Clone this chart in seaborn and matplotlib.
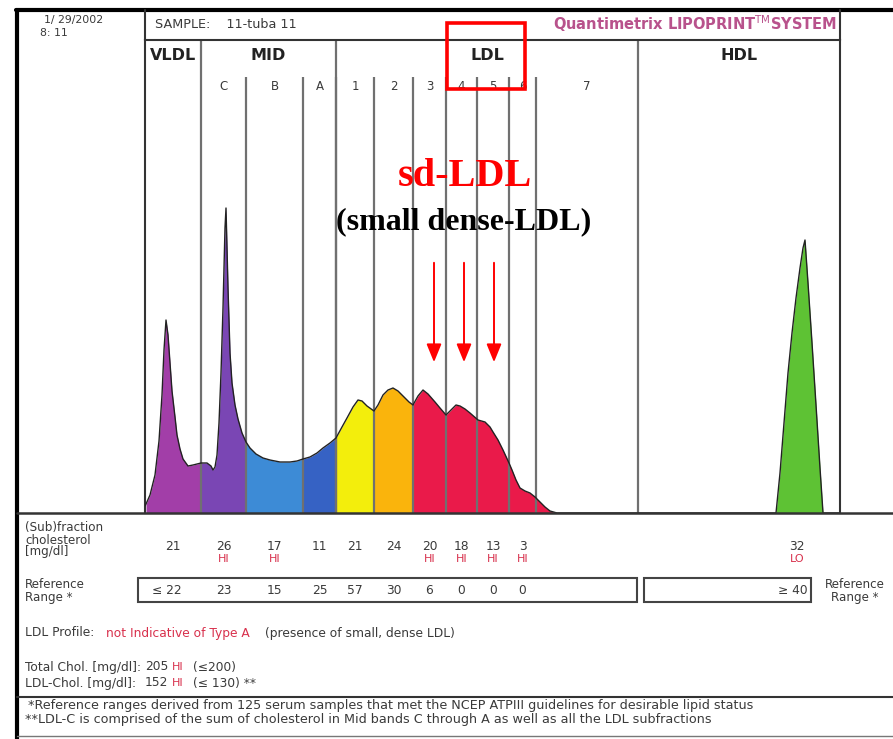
import matplotlib.pyplot as plt
import matplotlib.transforms as mtransforms
from matplotlib.patches import Rectangle
import numpy as np
import seaborn as sns

# densitometric scan of the gel: mobility position and relative intensity
scan_pos = [145, 146, 150, 155, 159, 162, 164, 166, 168, 170, 172, 175, 177, 180,
            183, 188, 193, 197, 201, 207, 211, 213, 215, 217, 219, 221, 223, 225,
            226, 228, 230, 232, 235, 238, 242, 246, 250, 256, 263, 270, 280, 290,
            297, 303, 310, 317, 323, 330, 336, 342, 347, 353, 358, 362, 367, 374,
            378, 383, 388, 393, 398, 404, 409, 413, 418, 423, 428, 435, 440, 446,
            451, 456, 460, 465, 470, 478, 485, 490, 493, 498, 503, 509, 512, 516,
            520, 525, 530, 535, 540, 545, 550, 557, 650, 776, 780, 784, 788, 792,
            796, 800, 803, 805, 808, 812, 816, 820, 823, 840]
scan_int = [7, 9, 18, 38, 72, 118, 163, 193, 178, 150, 122, 96, 78, 64,
            54, 47, 48, 49, 50, 50, 47, 43, 46, 58, 90, 140, 205, 285,
            305, 225, 160, 130, 108, 94, 80, 71, 65, 59, 55, 53, 51, 51,
            52, 54, 56, 60, 65, 70, 75, 86, 95, 106, 113, 112, 107, 102,
            108, 118, 123, 125, 122, 116, 111, 108, 117, 123, 119, 111, 105, 98,
            103, 108, 107, 104, 100, 93, 91, 86, 81, 73, 63, 50, 43, 33,
            25, 22, 20, 16, 11, 6, 2, 0, 0, 0, 40, 90, 140, 180,
            215, 245, 265, 273, 230, 170, 108, 45, 0, 0]

# coloured fractions under the curve
fill_lo = [146, 201, 246, 303, 336, 374, 413, 776]
fill_hi = [201, 246, 303, 336, 374, 413, 557, 823]
fill_colors = ['#a23ea8', '#7a46b4', '#3d8bd6', '#3662c4', '#f3ee0c', '#fab40c',
               '#ea1a4a', '#5ec234']

# band layout
group_names = ['VLDL', 'MID', 'LDL', 'HDL']
group_edges = [145, 201, 336, 638, 840]
sub_names = ['C', 'B', 'A', '1', '2', '3', '4', '5', '6', '7']
sub_edges = [201, 246, 303, 336, 374, 413, 446, 477, 509, 536, 638]

# table values (VLDL, C, B, A, 1..6, HDL)
chol_values = ['21', '26', '17', '11', '21', '24', '20', '18', '13', '3', '32']
chol_flags = ['', 'HI', 'HI', '', '', '', 'HI', 'HI', 'HI', 'HI', 'LO']
ref_values = ['\u2264 22', '23', '15', '25', '57', '30', '6', '0', '0', '0']
hdl_ref = '\u2265 40'
hdl_pos = 797
sd_arrow_x = [434, 464, 494]

txt = '#3a3a3a'
flag_red = '#d8304c'
grid_c = '#707070'
fs = 8.8

sns.set_style('white')
plt.rcParams['font.family'] = ['DejaVu Sans']

fig = plt.figure(figsize=(8.93, 7.39), dpi=100)
W, H = 893, 739

# chart area
ax = fig.add_axes([145 / W, (H - 513) / H, 695 / W, 473 / H])
ax.set_xlim(145, 840)
ax.set_ylim(0, 473)
ax.set_xticks([])
ax.set_yticks([])
ax.patch.set_alpha(0)
for s in ['left', 'right', 'top']:
    ax.spines[s].set_color('#333333')
    ax.spines[s].set_linewidth(1.5)
ax.spines['bottom'].set_visible(False)

x = np.array(scan_pos)
y = np.array(scan_int)
for lo, hi, c in zip(fill_lo, fill_hi, fill_colors):
    m = (x >= lo) & (x <= hi)
    ax.fill_between(x, 0, y, where=m, color=c, lw=0, zorder=1)
sns.lineplot(x=scan_pos, y=scan_int, ax=ax, color='#222222', lw=1.0,
             estimator=None, sort=False, zorder=3)

ax.vlines(group_edges[1:-1], 0, 473, color=grid_c, lw=1.6, zorder=2)
ax.vlines(sub_edges[1:-1], 0, 436, color=grid_c, lw=1.6, zorder=2)

for name, lo, hi in zip(group_names, group_edges[:-1], group_edges[1:]):
    ax.text((lo + hi) / 2, 457, name, ha='center', va='center',
            fontsize=11.5, fontweight='bold', color='#222222')
for name, lo, hi in zip(sub_names, sub_edges[:-1], sub_edges[1:]):
    ax.text((lo + hi) / 2, 426, name, ha='center', va='center',
            fontsize=8.5, color=txt)

# sd-LDL annotation
ax.text(465, 336, 'sd-LDL', ha='center', va='center', color='red',
        fontsize=29, fontweight='bold', family='Liberation Serif')
ax.text(464, 291, '(small dense-LDL)', ha='center', va='center', color='black',
        fontsize=23, fontweight='bold', family='Liberation Serif')
for ax_x in sd_arrow_x:
    ax.annotate('', xy=(ax_x, 148), xytext=(ax_x, 253),
                arrowprops=dict(arrowstyle='-|>,head_length=1.1,head_width=0.45',
                                color='red', lw=1.4))

# page furniture
page = fig.add_axes([0, 0, 1, 1], zorder=5)
page.set_xlim(0, W)
page.set_ylim(H, 0)
page.axis('off')

page.plot([16, W], [10, 10], color='black', lw=3)
page.plot([17, 17], [10, H], color='black', lw=3)
page.plot([145, 145], [10, 40], color='#333333', lw=1.5)
page.plot([840, 840], [10, 40], color='#333333', lw=1.5)
page.plot([17, W], [513, 513], color='#333333', lw=1.8)
page.plot([17, W], [697, 697], color='#333333', lw=1.5)
page.plot([17, W], [736, 736], color='#777777', lw=1.0)
page.add_patch(Rectangle((447, 23), 78, 66, fill=False, ec='red', lw=2.6))

page.text(44, 20, '1/ 29/2002', fontsize=7.8, color=txt, va='center')
page.text(40, 33, '8: 11', fontsize=7.8, color=txt, va='center')
page.text(155, 24, 'SAMPLE:    11-tuba 11', fontsize=9.2, color=txt, va='center')
page.text(837, 24, r'Quantimetrix LIPOPRINT$^{\mathrm{TM}}$SYSTEM', ha='right',
          va='center', fontsize=10.5, fontweight='bold', color='#b8528c')

# table rows aligned on the band axis
tr = mtransforms.blended_transform_factory(ax.transData, page.transData)
centers = [(group_edges[0] + group_edges[1]) / 2]
centers += [(lo + hi) / 2 for lo, hi in zip(sub_edges[:-2], sub_edges[1:-1])]
centers = centers[:10] + [hdl_pos]
for cx, v, f in zip(centers, chol_values, chol_flags):
    page.text(cx, 546, v, transform=tr, ha='center', va='center',
              fontsize=fs, color=txt)
    if f:
        page.text(cx, 559, f, transform=tr, ha='center', va='center',
                  fontsize=8, color=flag_red)
for cx, v in zip(centers[:10], ref_values):
    ha = 'right' if v.startswith('\u2264') else 'center'
    page.text(cx + (9 if ha == 'right' else 0), 590, v, transform=tr, ha=ha,
              va='center', fontsize=fs, color=txt)
page.text(808, 590, hdl_ref, ha='right', va='center', fontsize=fs, color=txt)

page.add_patch(Rectangle((138, 578), 499, 24, fill=False, ec='#444444', lw=1.5))
page.add_patch(Rectangle((644, 578), 167, 24, fill=False, ec='#444444', lw=1.5))

page.text(25, 540, '(Sub)fraction\ncholesterol\n[mg/dl]', fontsize=8.6, color=txt,
          va='center', linespacing=0.9)
page.text(25, 591, 'Reference\nRange *', fontsize=8.6, color=txt, va='center',
          linespacing=0.9)
page.text(855, 591, 'Reference\nRange *', fontsize=8.6, color=txt, va='center',
          ha='center', linespacing=0.9)

page.text(25, 633, 'LDL Profile:', fontsize=fs, color=txt, va='center')
page.text(106, 633, 'not Indicative of Type A', fontsize=fs, color=flag_red,
          va='center')
page.text(265, 633, '(presence of small, dense LDL)', fontsize=fs, color=txt,
          va='center')

page.text(25, 667, 'Total Chol. [mg/dl]:', fontsize=fs, color=txt, va='center')
page.text(25, 683, 'LDL-Chol. [mg/dl]:', fontsize=fs, color=txt, va='center')
page.text(145, 667, '205', fontsize=fs, color=txt, va='center')
page.text(145, 683, '152', fontsize=fs, color=txt, va='center')
page.text(172, 667, 'HI', fontsize=8, color=flag_red, va='center')
page.text(172, 683, 'HI', fontsize=8, color=flag_red, va='center')
page.text(193, 667, '(\u2264200)', fontsize=fs, color=txt, va='center')
page.text(193, 683, '(\u2264 130) **', fontsize=fs, color=txt, va='center')

page.text(28, 706, '*Reference ranges derived from 125 serum samples that met the '
          'NCEP ATPIII guidelines for desirable lipid status', fontsize=9.2,
          color=txt, va='center')
page.text(25, 719, '**LDL-C is comprised of the sum of cholesterol in Mid bands C '
          'through A as well as all the LDL subfractions', fontsize=9.2,
          color=txt, va='center')

fig.savefig('out.png', dpi=100, facecolor='white')
